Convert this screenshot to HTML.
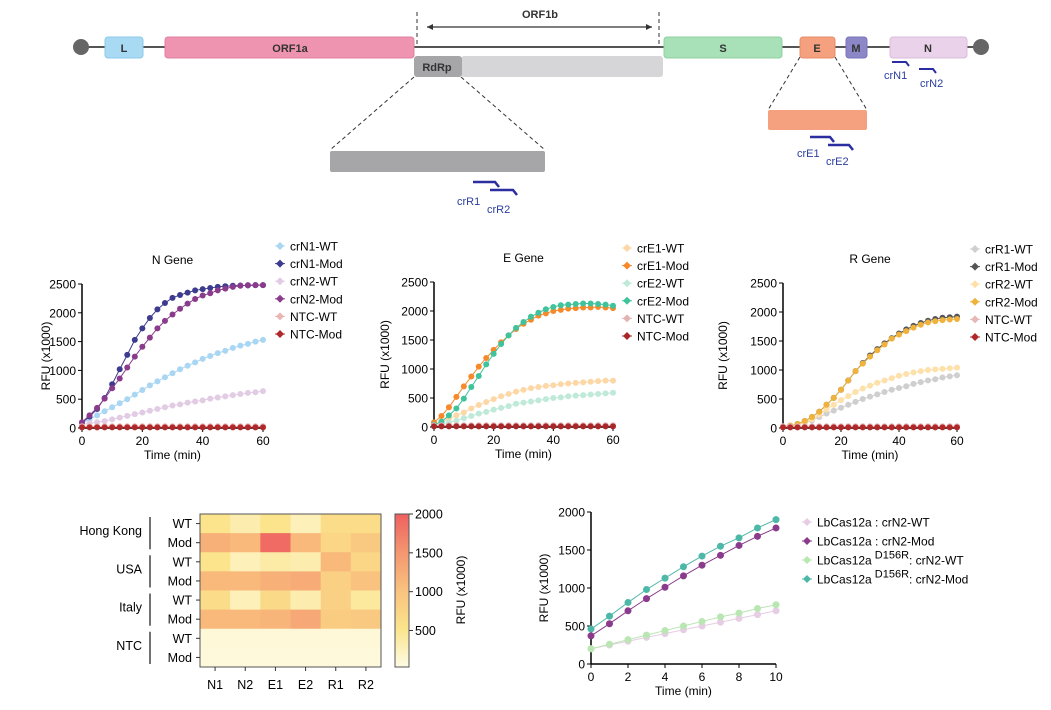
<!DOCTYPE html>
<html><head><meta charset="utf-8"><style>
body{margin:0;background:#fff;}
svg{display:block;font-family:"Liberation Sans",Arial,sans-serif;}
</style></head><body>
<svg id="fig" width="1051" height="710" viewBox="0 0 1051 710">
<g id="genome">
  <line x1="81" y1="47" x2="983" y2="47" stroke="#555" stroke-width="2"/>
  <circle cx="81" cy="47" r="8" fill="#666"/>
  <circle cx="981" cy="47" r="8" fill="#666"/>
  <rect x="105" y="37" width="38" height="21" rx="3" fill="#a8daf4" stroke="#8cc8e8"/>
  <text x="124" y="52" font-size="11" font-weight="bold" text-anchor="middle" fill="#333">L</text>
  <rect x="165" y="37" width="249" height="21" rx="3" fill="#ee94b0" stroke="#e080a0"/>
  <text x="290" y="52" font-size="11" font-weight="bold" text-anchor="middle" fill="#333">ORF1a</text>
  <rect x="664" y="37" width="118" height="21" rx="3" fill="#a8e0b8" stroke="#90d0a0"/>
  <text x="723" y="52" font-size="11" font-weight="bold" text-anchor="middle" fill="#333">S</text>
  <rect x="800" y="37" width="35" height="21" rx="3" fill="#f5a07e" stroke="#e88c6a"/>
  <text x="817" y="52" font-size="11" font-weight="bold" text-anchor="middle" fill="#333">E</text>
  <rect x="846" y="37" width="21" height="21" rx="3" fill="#8c88c8" stroke="#7874b8"/>
  <text x="856" y="52" font-size="11" font-weight="bold" text-anchor="middle" fill="#333">M</text>
  <rect x="890" y="37" width="77" height="21" rx="3" fill="#ead2ea" stroke="#d8bcd8"/>
  <text x="928" y="52" font-size="11" font-weight="bold" text-anchor="middle" fill="#333">N</text>
  <line x1="417" y1="12" x2="417" y2="47" stroke="#333" stroke-dasharray="4,3"/>
  <line x1="659" y1="12" x2="659" y2="47" stroke="#333" stroke-dasharray="4,3"/>
  <line x1="427" y1="27" x2="652" y2="27" stroke="#333" stroke-width="1.2"/>
  <path d="M427 27 l6 -3 v6z M652 27 l-6 -3 v6z" fill="#333"/>
  <text x="540" y="18" font-size="11" font-weight="bold" text-anchor="middle" fill="#333">ORF1b</text>
  <rect x="461" y="56" width="202" height="21" rx="3" fill="#d6d6d8"/>
  <rect x="414" y="56" width="48" height="21" rx="3" fill="#a6a6a8"/>
  <text x="437" y="71" font-size="11" font-weight="bold" text-anchor="middle" fill="#333">RdRp</text>
  <line x1="414" y1="77" x2="330" y2="150" stroke="#333" stroke-dasharray="4,3"/>
  <line x1="461" y1="77" x2="545" y2="150" stroke="#333" stroke-dasharray="4,3"/>
  <rect x="330" y="151" width="215" height="21" rx="2" fill="#a6a6a8"/>
  <path d="M473 182 h22 l4 5" stroke="#2a2ea0" stroke-width="2.5" fill="none"/>
  <path d="M490 190 h23 l4 5" stroke="#2a2ea0" stroke-width="2.5" fill="none"/>
  <text x="457" y="205" font-size="11" fill="#2a3ea0">crR1</text>
  <text x="487" y="213" font-size="11" fill="#2a3ea0">crR2</text>
  <line x1="800" y1="57" x2="768" y2="110" stroke="#333" stroke-dasharray="4,3"/>
  <line x1="835" y1="57" x2="867" y2="110" stroke="#333" stroke-dasharray="4,3"/>
  <rect x="768" y="110" width="99" height="20" rx="2" fill="#f5a07e"/>
  <path d="M810 137 h20 l4 5" stroke="#2a2ea0" stroke-width="2.5" fill="none"/>
  <path d="M828 145 h21 l4 5" stroke="#2a2ea0" stroke-width="2.5" fill="none"/>
  <text x="797" y="157" font-size="11" fill="#2a3ea0">crE1</text>
  <text x="826" y="165" font-size="11" fill="#2a3ea0">crE2</text>
  <path d="M892 62 h14 l3 4" stroke="#2a2ea0" stroke-width="2" fill="none"/>
  <path d="M919 69 h14 l3 4" stroke="#2a2ea0" stroke-width="2" fill="none"/>
  <text x="884" y="79" font-size="11" fill="#2a3ea0">crN1</text>
  <text x="920" y="87" font-size="11" fill="#2a3ea0">crN2</text>
</g>
<g id="charts"></g>
</svg>
<script>
// ---- time course data (every 2.5 min, 0-60) ----
const timeMin = [0,2.5,5,7.5,10,12.5,15,17.5,20,22.5,25,27.5,30,32.5,35,37.5,40,42.5,45,47.5,50,52.5,55,57.5,60];
const nLabels = ["crN1-WT","crN1-Mod","crN2-WT","crN2-Mod","NTC-WT","NTC-Mod"];
const crN1WT = [80,150,220,290,360,430,500,580,660,740,810,880,950,1020,1080,1140,1200,1250,1300,1340,1390,1430,1460,1500,1530];
const crN1Mod = [90,200,330,520,760,1020,1270,1530,1730,1910,2060,2170,2260,2310,2350,2390,2410,2430,2450,2460,2470,2475,2475,2480,2480];
const crN2WT = [60,80,100,120,150,180,210,240,270,300,330,360,390,410,440,460,480,510,530,550,570,590,610,620,640];
const crN2Mod = [100,220,350,510,690,860,1050,1240,1410,1570,1730,1860,1970,2070,2160,2240,2300,2340,2390,2420,2450,2470,2480,2480,2480];
const ntcWT = [30,30,30,30,30,30,30,30,30,30,30,30,30,30,30,30,30,30,30,30,30,30,30,30,30];
const ntcMod = [10,10,10,10,10,10,10,10,10,10,10,10,10,10,10,10,10,10,10,10,10,10,10,10,10];
const eLabels = ["crE1-WT","crE1-Mod","crE2-WT","crE2-Mod","NTC-WT","NTC-Mod"];
const crE1WT = [50,90,140,200,250,320,380,430,480,530,570,610,640,670,690,710,720,740,750,760,770,780,790,800,800];
const crE1Mod = [80,190,340,520,700,870,1040,1190,1330,1460,1580,1690,1780,1850,1920,1960,2000,2020,2040,2050,2060,2060,2070,2060,2050];
const crE2WT = [30,50,80,110,150,190,230,260,300,330,360,400,420,440,460,480,500,510,530,540,550,560,570,580,590];
const crE2Mod = [40,90,200,320,490,690,880,1080,1260,1430,1580,1710,1810,1900,1970,2030,2070,2100,2110,2120,2130,2130,2120,2110,2090];
const rLabels = ["crR1-WT","crR1-Mod","crR2-WT","crR2-Mod","NTC-WT","NTC-Mod"];
const crR1WT = [20,40,60,90,130,190,250,300,350,400,450,500,540,580,620,660,690,720,760,790,820,840,870,890,910];
const crR1Mod = [20,40,70,120,190,280,400,520,660,820,980,1120,1250,1360,1460,1550,1630,1700,1760,1810,1850,1880,1900,1910,1920];
const crR2WT = [20,40,60,100,150,230,320,400,480,550,620,680,730,780,820,860,900,930,960,980,1000,1010,1020,1030,1040];
const crR2Mod = [20,40,70,120,190,280,400,520,660,820,980,1110,1230,1340,1440,1540,1610,1670,1730,1780,1820,1840,1860,1870,1880];
const timeTicks = [0,20,40,60];
const rfuTicks = [0,500,1000,1500,2000,2500];
// ---- heatmap ----
const hmCols = ["N1","N2","E1","E2","R1","R2"];
const hmRows = ["WT","Mod","WT","Mod","WT","Mod","WT","Mod"];
const hmGroups = ["Hong Kong","USA","Italy","NTC"];
const hmValues = [
 [500,300,500,250,600,600],
 [1200,1100,1900,1100,700,900],
 [500,250,350,300,1100,700],
 [1100,1100,1200,1250,800,1000],
 [600,250,650,300,800,400],
 [1100,1100,1150,1300,850,900],
 [60,60,60,60,60,60],
 [50,50,50,50,50,50]];
const cbTicks = [500,1000,1500,2000];
// ---- LbCas12a comparison ----
const minutes = [0,1,2,3,4,5,6,7,8,9,10];
const lbWT = [200,250,300,350,400,450,500,550,600,650,700];
const lbMod = [370,530,700,860,1010,1160,1300,1430,1560,1680,1790];
const d156WT = [200,260,320,380,440,500,560,620,670,730,780];
const d156Mod = [460,630,810,980,1130,1280,1420,1550,1660,1790,1900];
const minTicks = [0,2,4,6,8,10];
const rfuTicks2 = [0,500,1000,1500,2000];

const NS="http://www.w3.org/2000/svg";
const root=document.getElementById('charts');
function mk(tag,attrs,parent,txt){const e=document.createElementNS(NS,tag);for(const k in attrs)e.setAttribute(k,attrs[k]);if(txt!==undefined)e.textContent=txt;(parent||root).appendChild(e);return e;}

function lineChart(cfg){
  const g=mk('g',{});
  
  
  const sx=v=>cfg.x0+(v-cfg.xmin)/(cfg.xmax-cfg.xmin)*(cfg.x1-cfg.x0);
  const sy=v=>cfg.y0-(v-cfg.ymin)/(cfg.ymax-cfg.ymin)*(cfg.y0-cfg.y1);
  const ya=mk('line',{x1:cfg.x0,y1:cfg.y1,x2:cfg.x0,y2:cfg.y0,stroke:'#000','stroke-width':1.5},g);
  
  
  const xa=mk('line',{x1:cfg.x0,y1:cfg.y0,x2:cfg.x1,y2:cfg.y0,stroke:'#000','stroke-width':1.5},g);
  
  
  cfg.yt.forEach(v=>{const y=sy(v);mk('line',{x1:cfg.x0-4,y1:y,x2:cfg.x0,y2:y,stroke:'#000'},g);
    const t=mk('text',{x:cfg.x0-6,y:y+4.5,'font-size':12,'text-anchor':'end'},g,v);
    
    });
  cfg.xt.forEach(v=>{const x=sx(v);mk('line',{x1:x,y1:cfg.y0,x2:x,y2:cfg.y0+4,stroke:'#000'},g);
    const t=mk('text',{x:x,y:cfg.y0+17,'font-size':12,'text-anchor':'middle'},g,v);
    
    });
  const xt=mk('text',{x:(cfg.x0+cfg.x1)/2,y:cfg.y0+31,'font-size':12,'text-anchor':'middle'},g,'Time (min)');
  
  
  const yc=(cfg.y0+cfg.y1)/2;
  const ytt=mk('text',{x:cfg.ylx,y:yc,'font-size':12,'text-anchor':'middle',transform:`rotate(-90 ${cfg.ylx} ${yc})`},g,'RFU (x1000)');
  
  
  if(cfg.title){const tt=mk('text',{x:(cfg.x0+cfg.x1)/2,y:cfg.y1-20,'font-size':12,'text-anchor':'middle'},g,cfg.title);
    
    }
  cfg.series.forEach((s,i)=>{
    const sg=mk('g',{},g);
    
    
    const pts=s.data.map((v,j)=>sx(cfg.xs[j])+','+sy(v)).join(' ');
    mk('polyline',{points:pts,fill:'none',stroke:s.color,'stroke-width':1},sg);
    s.data.forEach((v,j)=>{const c=mk('circle',{cx:sx(cfg.xs[j]),cy:sy(v),r:cfg.r,fill:s.color},sg);
      
      });
  });
  cfg.series.forEach((s,i)=>{
    const ly=cfg.ly+i*cfg.lstep;
    const lg=mk('g',{},g);
    
    
    mk('line',{x1:cfg.lx-5,y1:ly,x2:cfg.lx+5,y2:ly,stroke:s.color},lg);
    mk('path',{d:`M${cfg.lx} ${ly-4} l4 4 l-4 4 l-4 -4z`,fill:s.color},lg);
    const t=mk('text',{x:cfg.lx+10,y:ly+4.5,'font-size':12},lg,s.leg||s.label);
    if(s.sup){t.textContent='';t.appendChild(document.createTextNode(s.leg));
      mk('tspan',{dy:-6,'font-size':11},t,' '+s.sup);
      mk('tspan',{dy:6},t,':'+s.rest);}
  });
}
const base={xs:timeMin,xmin:0,xmax:60,ymin:0,ymax:2500,xt:timeTicks,yt:rfuTicks,r:3,lstep:17.6};
lineChart(Object.assign({},base,{name:'n-gene-chart',title:'N Gene',x0:82,x1:263,y0:428,y1:284,ylx:50,lx:280,ly:246,
 series:[{label:nLabels[0],data:crN1WT,color:'#a9d6f3'},{label:nLabels[1],data:crN1Mod,color:'#3d3b8e'},{label:nLabels[2],data:crN2WT,color:'#e2cbe4'},{label:nLabels[3],data:crN2Mod,color:'#8a3b8c'},{label:nLabels[4],data:ntcWT,color:'#e9b6b4'},{label:nLabels[5],data:ntcMod,color:'#b0282a'}]}));
lineChart(Object.assign({},base,{name:'e-gene-chart',title:'E Gene',x0:434,x1:613,y0:427,y1:282,ylx:389,lx:627,ly:248,
 series:[{label:eLabels[0],data:crE1WT,color:'#fdd8a6'},{label:eLabels[1],data:crE1Mod,color:'#f6892a'},{label:eLabels[2],data:crE2WT,color:'#bfe9d8'},{label:eLabels[3],data:crE2Mod,color:'#3fc39c'},{label:eLabels[4],data:ntcWT,color:'#e2b4b4'},{label:eLabels[5],data:ntcMod,color:'#a8282a'}]}));
lineChart(Object.assign({},base,{name:'r-gene-chart',title:'R Gene',x0:783,x1:957,y0:428,y1:283,ylx:727,lx:975,ly:249,
 series:[{label:rLabels[0],data:crR1WT,color:'#cfcfcf'},{label:rLabels[1],data:crR1Mod,color:'#555555'},{label:rLabels[2],data:crR2WT,color:'#fde0aa'},{label:rLabels[3],data:crR2Mod,color:'#efb23c'},{label:rLabels[4],data:ntcWT,color:'#e6b8b8'},{label:rLabels[5],data:ntcMod,color:'#b0282a'}]}));
lineChart({name:'lbcas12a-chart',xs:minutes,xmin:0,xmax:10,ymin:0,ymax:2000,xt:minTicks,yt:rfuTicks2,r:3.5,lstep:19,
 x0:591,x1:776,y0:664,y1:512,ylx:548,lx:807,ly:522,
 series:[{label:'LbCas12a : crN2-WT',data:lbWT,color:'#e6cde4'},{label:'LbCas12a : crN2-Mod',data:lbMod,color:'#8a3b8c'},
 {label:'LbCas12a D156R crN2-WT',leg:'LbCas12a',sup:'D156R',rest:' crN2-WT',data:d156WT,color:'#b9e6b2'},
 {label:'LbCas12a D156R crN2-Mod',leg:'LbCas12a',sup:'D156R',rest:' crN2-Mod',data:d156Mod,color:'#4db8a8'}]});

// heatmap
const stops=[[0,[254,251,228]],[500,[251,228,140]],[1000,[249,194,126]],[1500,[244,150,112]],[2000,[238,96,96]]];
function col(v){v=Math.max(0,Math.min(2000,v));for(let i=1;i<stops.length;i++){if(v<=stops[i][0]){const a=stops[i-1],b=stops[i],t=(v-a[0])/(b[0]-a[0]);return 'rgb('+a[1].map((c,k)=>Math.round(c+(b[1][k]-c)*t)).join(',')+')';}}}
const hg=mk('g',{});


const hx0=200,hx1=381,hy0=514,hy1=667,cw=(hx1-hx0)/hmCols.length,ch=(hy1-hy0)/hmRows.length;
hmValues.forEach((row,r)=>row.forEach((v,c)=>{const e=mk('rect',{x:hx0+c*cw,y:hy0+r*ch,width:cw+0.5,height:ch+0.5,fill:col(v)},hg);
  
  }));
mk('rect',{x:hx0,y:hy0,width:hx1-hx0,height:hy1-hy0,fill:'none',stroke:'#555'},hg);
hmCols.forEach((c,i)=>{const x=hx0+(i+0.5)*cw;mk('line',{x1:x,y1:hy1,x2:x,y2:hy1+4,stroke:'#333'},hg);
  const t=mk('text',{x:x,y:hy1+22,'font-size':12.5,'text-anchor':'middle'},hg,c);
  
  });
hmRows.forEach((r,i)=>{const y=hy0+(i+0.5)*ch;mk('line',{x1:hx0-4,y1:y,x2:hx0,y2:y,stroke:'#333'},hg);
  const t=mk('text',{x:hx0-8,y:y+4.5,'font-size':12.5,'text-anchor':'end'},hg,r);
  
  });
hmGroups.forEach((gname,i)=>{const ya=hy0+i*2*ch+3,yb=hy0+(i+1)*2*ch-3;
  mk('line',{x1:150,y1:ya,x2:150,y2:yb,stroke:'#444','stroke-width':1.5},hg);
  const t=mk('text',{x:142,y:(ya+yb)/2+2,'font-size':12.5,'text-anchor':'end'},hg,gname);
  
  });
const defs=mk('defs',{},hg);const lg=mk('linearGradient',{id:'cbg',x1:0,y1:1,x2:0,y2:0},defs);
stops.forEach(s=>mk('stop',{offset:(s[0]/2000),'stop-color':'rgb('+s[1].join(',')+')'},lg));
const cbx=395,cbw=14,cby0=667,cby1=514;
const cb=mk('rect',{x:cbx,y:cby1,width:cbw,height:cby0-cby1,fill:'url(#cbg)',stroke:'#555'},hg);


const cy=v=>cby0-(v-30)/(2000-30)*(cby0-cby1);
cbTicks.forEach(v=>{const y=cy(v);mk('line',{x1:cbx+cbw,y1:y,x2:cbx+cbw+4,y2:y,stroke:'#333'},hg);
  const t=mk('text',{x:cbx+cbw+6,y:y+4.5,'font-size':12.5},hg,v);
  
  });
const cbt=mk('text',{x:465,y:590,'font-size':12,'text-anchor':'middle',transform:'rotate(-90 465 590)'},hg,'RFU (x1000)');


</script>
</body></html>
